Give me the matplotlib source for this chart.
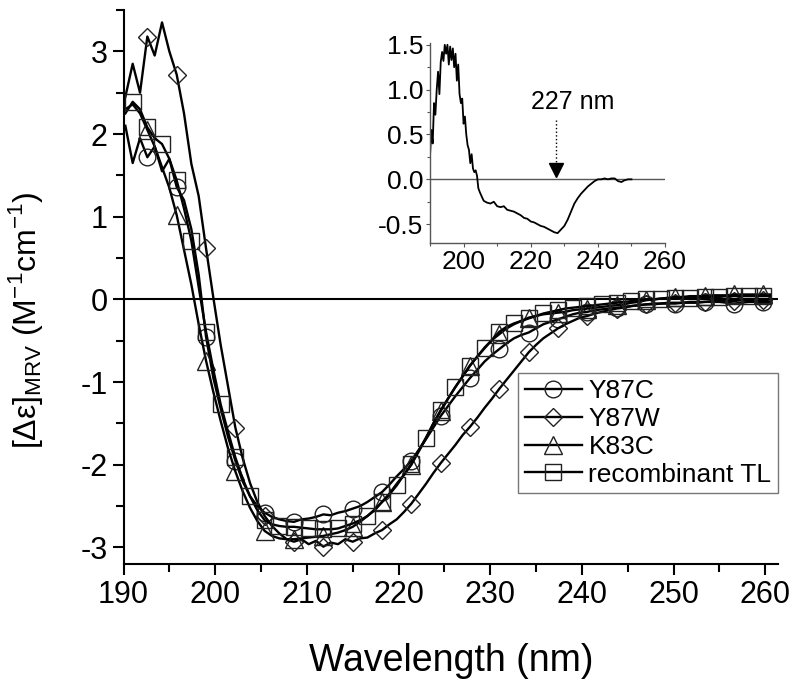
import numpy as np
import matplotlib
matplotlib.use('Agg')
from matplotlib import pyplot as plt
from matplotlib.ticker import MultipleLocator, FormatStrFormatter

plt.rcParams['font.family'] = ['Liberation Sans', 'DejaVu Sans']
plt.rcParams['mathtext.fontset'] = 'custom'
plt.rcParams['mathtext.rm'] = 'Liberation Sans'
plt.rcParams['axes.unicode_minus'] = False

# wavelength grid of the main spectra (nm)
wl = 190.2 + 0.8 * np.arange(89)

y87c = [2.1, 1.65, 1.95, 1.72, 1.85, 1.55, 1.7, 1.36, 1.2, 0.85, 0.3, -0.45,
        -0.95, -1.32, -1.66, -1.95, -2.2, -2.38, -2.5, -2.58, -2.63, -2.66, -2.68, -2.69,
        -2.66, -2.65, -2.63, -2.6, -2.61, -2.58, -2.56, -2.53, -2.5, -2.45, -2.39, -2.33,
        -2.24, -2.14, -2.05, -1.95, -1.82, -1.69, -1.55, -1.41, -1.29, -1.17, -1.06, -0.95,
        -0.85, -0.75, -0.67, -0.6, -0.53, -0.47, -0.43, -0.4, -0.35, -0.3, -0.27, -0.24,
        -0.21, -0.18, -0.16, -0.15, -0.13, -0.12, -0.11, -0.1, -0.09, -0.08, -0.07, -0.06,
        -0.06, -0.05, -0.05, -0.05, -0.04, -0.04, -0.04, -0.03, -0.03, -0.03, -0.04, -0.05,
        -0.04, -0.03, -0.03, -0.03, -0.03]

y87w = [2.45, 2.85, 2.5, 3.18, 2.95, 3.35, 3.0, 2.72, 2.25, 1.64, 1.25, 0.62,
        0.02, -0.55, -1.05, -1.55, -1.92, -2.22, -2.45, -2.62, -2.74, -2.83, -2.9, -2.93,
        -2.9, -2.96, -2.92, -2.99, -2.94, -2.96, -2.9, -2.93, -2.89, -2.88, -2.83, -2.79,
        -2.72, -2.66, -2.57, -2.47, -2.35, -2.23, -2.1, -1.98, -1.87, -1.76, -1.64, -1.54,
        -1.43, -1.31, -1.2, -1.08, -0.97, -0.86, -0.75, -0.64, -0.55, -0.47, -0.41, -0.35,
        -0.3, -0.26, -0.22, -0.2, -0.17, -0.15, -0.13, -0.11, -0.1, -0.08, -0.07, -0.06,
        -0.05, -0.05, -0.04, -0.04, -0.04, -0.03, -0.03, -0.03, -0.02, -0.02, -0.02, -0.02,
        -0.01, -0.01, -0.01, -0.01, 0.0]

k83c = [2.3, 2.36, 2.25, 2.05, 1.85, 1.6, 1.35, 1.02, 0.6, 0.18, -0.3, -0.74,
        -1.12, -1.47, -1.8, -2.08, -2.32, -2.52, -2.68, -2.8, -2.86, -2.89, -2.9, -2.9,
        -2.89, -2.88, -2.87, -2.86, -2.84, -2.82, -2.79, -2.75, -2.69, -2.62, -2.54, -2.45,
        -2.35, -2.23, -2.12, -2.0, -1.83, -1.67, -1.5, -1.35, -1.2, -1.06, -0.93, -0.8,
        -0.69, -0.58, -0.49, -0.42, -0.35, -0.3, -0.26, -0.22, -0.2, -0.18, -0.17, -0.16,
        -0.15, -0.13, -0.12, -0.11, -0.1, -0.09, -0.08, -0.07, -0.06, -0.04, -0.03, -0.01,
        0.0, 0.01, 0.02, 0.03, 0.03, 0.04, 0.04, 0.04, 0.05, 0.05, 0.05, 0.06,
        0.06, 0.06, 0.06, 0.06, 0.06]

rec_tl = [2.25, 2.39, 2.3, 2.08, 1.95, 1.88, 1.7, 1.44, 1.1, 0.71, 0.15, -0.39,
          -0.85, -1.27, -1.6, -1.91, -2.17, -2.38, -2.55, -2.67, -2.72, -2.74, -2.75, -2.75,
          -2.76, -2.77, -2.78, -2.78, -2.78, -2.77, -2.74, -2.71, -2.67, -2.62, -2.55, -2.45,
          -2.36, -2.25, -2.12, -1.99, -1.84, -1.68, -1.5, -1.34, -1.2, -1.06, -0.93, -0.8,
          -0.69, -0.59, -0.49, -0.39, -0.33, -0.29, -0.26, -0.23, -0.2, -0.17, -0.15, -0.13,
          -0.11, -0.1, -0.09, -0.08, -0.07, -0.06, -0.05, -0.04, -0.03, -0.02, -0.01, 0.0,
          0.0, 0.01, 0.01, 0.02, 0.02, 0.02, 0.03, 0.03, 0.03, 0.03, 0.04, 0.04,
          0.04, 0.04, 0.04, 0.04, 0.04]

# inset: difference spectrum
inset_wl = [190.0, 190.4, 190.8, 191.2, 191.6, 192.0, 192.4, 192.8, 193.2, 193.6,
            194.0, 194.4, 194.8, 195.2, 195.6, 196.0, 196.4, 196.8, 197.2, 197.6,
            198.0, 198.4, 198.8, 199.2, 199.6, 200.0, 200.4, 200.8, 201.2, 201.6,
            202.0, 202.4, 202.8, 203.2, 203.6, 204.0, 204.4, 204.8, 205.5, 206,
            207, 208, 209, 210, 211, 212, 213, 214, 215, 216,
            217, 218, 219, 220, 221, 222, 223, 224, 225, 226,
            227, 228, 229, 230, 231, 232, 233, 234, 235, 236,
            237, 238, 239, 240, 241, 242, 243, 244, 245, 246,
            247, 248, 249, 250]
inset_cd = [0.26, 0.55, 0.4, 0.85, 0.72, 1.0, 1.2, 0.95, 1.31, 1.42,
            1.32, 1.5, 1.4, 1.5, 1.28, 1.48, 1.33, 1.46, 1.25, 1.4,
            1.1, 1.28, 0.95, 0.85, 0.9, 0.62, 0.7, 0.5, 0.38, 0.33,
            0.18, 0.28, 0.12, 0.08, 0.1, 0.04, -0.1, -0.14, -0.2, -0.24,
            -0.26, -0.27, -0.25, -0.3, -0.31, -0.3, -0.34, -0.35, -0.36, -0.38,
            -0.4, -0.43, -0.44, -0.47, -0.48, -0.5, -0.52, -0.53, -0.55, -0.57,
            -0.59, -0.6, -0.56, -0.52, -0.45, -0.36, -0.27, -0.21, -0.16, -0.12,
            -0.08, -0.05, -0.02, 0.0, 0.0, 0.01, 0.0, 0.01, 0.01, -0.02,
            -0.03, -0.01, 0.0, 0.0]

labels = ['Y87C', 'Y87W', 'K83C', 'recombinant TL']

fig = plt.figure(figsize=(8, 6.88), dpi=100)
ax = fig.add_axes([0.1544, 0.1802, 0.8181, 0.8052])

ax.axhline(0, color='k', lw=1.5, zorder=1)
common = dict(color='k', lw=1.7, mfc='none', mec='#222222', mew=1.0)
ax.plot(wl, y87c, marker='o', ms=12, markevery=(3, 4), label=labels[0], **common)
ax.plot(wl, y87w, marker='D', ms=9, markevery=(3, 4), label=labels[1], **common)
ax.plot(wl, k83c, marker='^', ms=13, markevery=(3, 4), label=labels[2], **common)
ax.plot(wl, rec_tl, marker='s', ms=11, markevery=(1, 2), label=labels[3], **common)

ax.set_xlim(190, 261.4)
ax.set_ylim(-3.2, 3.5)
ax.xaxis.set_major_locator(MultipleLocator(10))
ax.xaxis.set_minor_locator(MultipleLocator(5))
ax.yaxis.set_major_locator(MultipleLocator(1))
ax.yaxis.set_minor_locator(MultipleLocator(0.5))
for s in ['top', 'right']:
    ax.spines[s].set_visible(False)
for s in ['left', 'bottom']:
    ax.spines[s].set_linewidth(1.5)
ax.tick_params(which='major', direction='out', length=8, width=1.5, labelsize=22)
ax.tick_params(which='minor', direction='out', length=6, width=1.5)
ax.set_xlabel('Wavelength (nm)', fontsize=27, labelpad=24)
ax.set_ylabel('[Δε]$_{\\mathregular{MRV}}$ (M$^{\\mathregular{-1}}$cm$^{\\mathregular{-1}}$)',
              fontsize=23)
ax.yaxis.set_label_coords(-0.12, 0.44)

leg = ax.legend(loc='upper right', bbox_to_anchor=(1.0, 0.345), borderaxespad=0,
                fontsize=19, fancybox=False, edgecolor='#555555', handlelength=2.15,
                labelspacing=0.14, handletextpad=0.25, borderpad=0.25, numpoints=1)
leg.get_frame().set_linewidth(1.0)

# inset
axi = fig.add_axes([0.5375, 0.6468, 0.2938, 0.2907])
axi.axhline(0, color='#555555', lw=1.0)
axi.plot(inset_wl, inset_cd, color='k', lw=1.3)
axi.plot([227.5, 227.5], [0.66, 0.12], color='k', lw=1.0, ls=':')
axi.plot([227.5], [0.1], marker='v', color='k', ms=10, ls='none')
axi.text(232.6, 0.86, '227 nm', fontsize=18, ha='center', va='center')
axi.set_xlim(190, 260)
axi.set_ylim(-0.71, 1.52)
axi.set_xticks([200, 220, 240, 260])
axi.xaxis.set_minor_locator(MultipleLocator(10))
axi.set_yticks([-0.5, 0.0, 0.5, 1.0, 1.5])
axi.yaxis.set_minor_locator(MultipleLocator(0.25))
axi.yaxis.set_major_formatter(FormatStrFormatter('%.1f'))
for s in ['top', 'right']:
    axi.spines[s].set_visible(False)
for s in ['left', 'bottom']:
    axi.spines[s].set_linewidth(1.0)
    axi.spines[s].set_color('#555555')
axi.tick_params(which='major', direction='out', length=3, width=0.8, color='#555555',
                labelsize=19, pad=2)
axi.tick_params(which='minor', direction='out', length=2, width=0.8, color='#555555')
axi.set_facecolor('none')

fig.savefig('out.png', dpi=100)
